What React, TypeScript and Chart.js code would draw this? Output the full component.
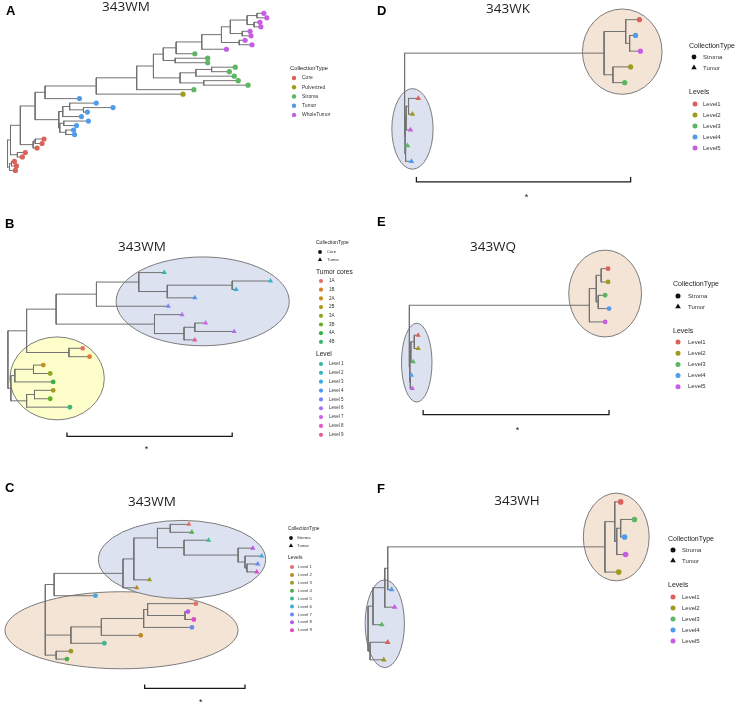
import React, { useEffect, useRef } from 'react';
import { Chart, registerables } from 'chart.js';

Chart.register(...registerables);

type Node3 = [string, string, number];

// ---------------- Panel A : 343WM (CollectionType) ----------------
const A_LEGEND = ['Core', 'Pulverized', 'Stroma', 'Tumor', 'WholeTumor'];
const A_TIP_GROUP = [
  'WholeTumor', 'WholeTumor', 'WholeTumor', 'WholeTumor', 'WholeTumor', 'WholeTumor', 'WholeTumor', 'WholeTumor', 'WholeTumor',
  'Stroma', 'Stroma', 'Stroma', 'Stroma', 'Stroma', 'Stroma', 'Stroma', 'Stroma', 'Stroma',
  'Pulverized',
  'Tumor', 'Tumor', 'Tumor', 'Tumor', 'Tumor', 'Tumor', 'Tumor', 'Tumor', 'Tumor',
  'Core', 'Core', 'Core', 'Core', 'Core', 'Core', 'Core', 'Core',
];
const A_TIP_DEPTH = [260, 263, 256, 257, 246, 247, 241, 248, 222, 190, 203, 203, 231, 225, 230, 234, 244, 189, 178, 73, 90, 107, 81, 75, 82, 70, 67, 68, 37, 35, 30, 18, 15, 7, 9, 8];
const A_TIP_PARENT = ['p12', 'p12', 'p34', 'p34', 'p56', 'p56', 'p78', 'p78', 'pR', 'n9', 'n10', 'n10', 'n13', 'n13', 'n12', 'n14', 'n14', 'n6', 'n5', 'n4', 'b3', 'b4', 'b4', 'b1', 'b5', 'b5', 'b6', 'b6', 'r1', 'r1', 'rA', 'r2', 'r2', 'r4', 'r4', 'r3'];
const A_NODES: Node3[] = [
  ['root', '', 0], ['n1', 'root', 3], ['r3', 'root', 2], ['r4', 'r3', 4], ['n2', 'n1', 13], ['r2', 'n1', 10],
  ['n3', 'n2', 28], ['rA', 'n2', 26], ['r1', 'rA', 28], ['n4', 'n3', 38], ['bR', 'n3', 52], ['b1', 'bR', 56],
  ['b3', 'b1', 63], ['b4', 'b3', 77], ['b2', 'bR', 53], ['b5', 'b2', 57], ['b6', 'b2', 59], ['n5', 'n4', 90],
  ['n6', 'n5', 131], ['n7', 'n6', 148], ['n8', 'n7', 158], ['n9', 'n8', 171], ['pR', 'n9', 197], ['p18', 'pR', 217],
  ['p16', 'p18', 226], ['p1234', 'p16', 243], ['p12', 'p1234', 253], ['p34', 'p1234', 250], ['p56', 'p16', 238],
  ['p78', 'p18', 235], ['n10', 'n8', 170], ['n11', 'n7', 175], ['n12', 'n11', 191], ['n13', 'n12', 207], ['n14', 'n11', 199],
];

// ---------------- Panel B : 343WM (Tumor cores / Level) ----------------
const B_COLLECTION = ['Core', 'Tumor'];
const B_CORES = ['1A', '1B', '2A', '2B', '3A', '3B', '4A', '4B'];
const B_LEVELS = ['Level 1', 'Level 2', 'Level 3', 'Level 4', 'Level 5', 'Level 6', 'Level 7', 'Level 8', 'Level 9'];
const B_TIP_GROUP = ['Level 1', 'Level 2', 'Level 3', 'Level 4', 'Level 5', 'Level 6', 'Level 7', 'Level 6', 'Level 9', '1A', '1B', '2A', '3A', '4A', '2B', '3B', '4B'];
const B_TIP_TYPE = ['Tumor', 'Tumor', 'Tumor', 'Tumor', 'Tumor', 'Tumor', 'Tumor', 'Tumor', 'Tumor', 'Core', 'Core', 'Core', 'Core', 'Core', 'Core', 'Core', 'Core'];
const B_TIP_DEPTH = [159, 267, 232, 190, 163, 177, 201, 230, 190, 76, 83, 36, 43, 46, 46, 43, 63];
const B_TIP_PARENT = ['n138', 'n233', 'n233', 'n167', 'n95', 'n154', 'n195', 'n195', 'n184', 'n67', 'n67', 'y4', 'y4', 'y2', 'y5', 'y5', 'y3'];
const B_NODES: Node3[] = [
  ['root', '', 0], ['n24', 'root', 19], ['n54', 'n24', 49], ['n95', 'n54', 90], ['n138', 'n95', 133], ['n167', 'n138', 162],
  ['n233', 'n167', 228], ['n154', 'n54', 149], ['n184', 'n154', 179], ['n195', 'n184', 190], ['n67', 'n24', 62],
  ['y1', 'root', 3], ['y2', 'y1', 7], ['y4', 'y2', 26], ['y3', 'y1', 19], ['y5', 'y3', 27],
];

// ---------------- Panel C : 343WM (Levels 1-9) ----------------
const C_COLLECTION = ['Stroma', 'Tumor'];
const C_LEVELS = ['Level 1', 'Level 2', 'Level 3', 'Level 4', 'Level 5', 'Level 6', 'Level 7', 'Level 8', 'Level 9'];
const C_TIP_GROUP = ['Level 1', 'Level 4', 'Level 5', 'Level 8', 'Level 6', 'Level 7', 'Level 9', 'Level 3', 'Level 2', 'Level 6', 'Level 1', 'Level 8', 'Level 9', 'Level 7', 'Level 2', 'Level 5', 'Level 3', 'Level 4'];
const C_TIP_TYPE = ['Tumor', 'Tumor', 'Tumor', 'Tumor', 'Tumor', 'Tumor', 'Tumor', 'Tumor', 'Tumor', 'Stroma', 'Stroma', 'Stroma', 'Stroma', 'Stroma', 'Stroma', 'Stroma', 'Stroma', 'Stroma'];
const C_TIP_DEPTH = [146, 149, 166, 211, 220, 216, 215, 106, 93, 51, 153, 145, 151, 149, 97, 60, 26, 22];
const C_TIP_PARENT = ['n170', 'n170', 'n184', 'n239', 'n246', 'n248', 'n248', 'n133', 'nBlue', 'n52', 'nC3', 'nC4', 'nC4', 'nC2', 'nC1', 'nBe', 'nBot', 'nBot'];
const C_NODES: Node3[] = [
  ['root', '', 0], ['n52', 'root', 9], ['nBlue', 'n52', 79], ['n133', 'nBlue', 90], ['n157', 'n133', 114], ['n170', 'n157', 127],
  ['n184', 'n157', 141], ['n239', 'n184', 196], ['n246', 'n239', 203], ['n248', 'n246', 205], ['nBe', 'root', 26],
  ['nC1', 'nBe', 57], ['nC2', 'nC1', 100], ['nC3', 'nC2', 104], ['nC4', 'nC3', 142], ['nBot', 'root', 11],
];

// ---------------- Panels D, E, F (Levels 1-5) ----------------
const DEF_COLLECTION = ['Stroma', 'Tumor'];
const DEF_LEVELS = ['Level1', 'Level2', 'Level3', 'Level4', 'Level5'];

const D_TIP_GROUP = ['Level1', 'Level4', 'Level5', 'Level2', 'Level3', 'Level1', 'Level2', 'Level5', 'Level3', 'Level4'];
const D_TIP_TYPE = ['Stroma', 'Stroma', 'Stroma', 'Stroma', 'Stroma', 'Tumor', 'Tumor', 'Tumor', 'Tumor', 'Tumor'];
const D_TIP_DEPTH = [239, 235, 240, 230, 224, 14, 8, 6, 3, 7];
const D_TIP_PARENT = ['n627', 'n631', 'n631', 'n614', 'n614', 'L4', 'L4', 'L2', 'L3', 'L3'];
const D_NODES: Node3[] = [
  ['root', '', 0], ['n605', 'root', 203], ['n627', 'n605', 225], ['n631', 'n627', 229], ['n614', 'n605', 212],
  ['L1', 'root', 0.5], ['L2', 'L1', 1.5], ['L4', 'L2', 4], ['L3', 'L1', 1],
];

const E_TIP_GROUP = ['Level1', 'Level2', 'Level3', 'Level4', 'Level5', 'Level1', 'Level2', 'Level3', 'Level4', 'Level5'];
const E_TIP_TYPE = ['Stroma', 'Stroma', 'Stroma', 'Stroma', 'Stroma', 'Tumor', 'Tumor', 'Tumor', 'Tumor', 'Tumor'];
const E_TIP_DEPTH = [202, 202, 199, 203, 199, 9, 9, 4, 2, 3];
const E_TIP_PARENT = ['n602', 'n602', 'n599', 'n599', 'n590', 'L3', 'L3', 'L2', 'L4', 'L4'];
const E_NODES: Node3[] = [
  ['root', '', 0], ['n590', 'root', 183], ['n597', 'n590', 190], ['n602', 'n597', 195], ['n599', 'n597', 192],
  ['L1', 'root', 0.5], ['L2', 'L1', 1.5], ['L3', 'L2', 5], ['L4', 'L1', 1],
];

const F_TIP_GROUP = ['Level1', 'Level3', 'Level4', 'Level5', 'Level2', 'Level4', 'Level5', 'Level3', 'Level1', 'Level2'];
const F_TIP_TYPE = ['Stroma', 'Stroma', 'Stroma', 'Stroma', 'Stroma', 'Tumor', 'Tumor', 'Tumor', 'Tumor', 'Tumor'];
const F_TIP_DEPTH = [257, 271, 261, 262, 255, 24, 27, 14, 20, 16];
const F_TIP_PARENT = ['n616', 'n622', 'n622', 'n618', 'n606', 'n385', 'n382', 'nTop', 'nBot', 'nBot'];
const F_NODES: Node3[] = [
  ['root', '', 0], ['nTop', 'root', 5], ['n382', 'nTop', 17], ['n385', 'n382', 20], ['n606', 'n385', 241],
  ['n616', 'n606', 251], ['n618', 'n616', 253], ['n622', 'n618', 257], ['nBot', 'root', 2],
];

// ---------------- colours ----------------
const COL_A: Record<string, string> = {
  Core: '#D9625B', Pulverized: '#9E9B1F', Stroma: '#5CB662', Tumor: '#519BEB', WholeTumor: '#C75DE2',
};
const COL_B: Record<string, string> = {
  '1A': '#E0706A', '1B': '#D98030', '2A': '#C89020', '2B': '#AA9A1A', '3A': '#8EA820', '3B': '#62AE28', '4A': '#3CB048', '4B': '#40B478',
  'Level 1': '#3CB4A0', 'Level 2': '#3AB4C8', 'Level 3': '#3AAAE0', 'Level 4': '#4A9AF4', 'Level 5': '#7A88F4',
  'Level 6': '#AA74F0', 'Level 7': '#CC64E8', 'Level 8': '#E05CC8', 'Level 9': '#E0609A',
};
const COL_C: Record<string, string> = {
  'Level 1': '#E0706A', 'Level 2': '#B88A22', 'Level 3': '#9A9A22', 'Level 4': '#4CAF3C', 'Level 5': '#40B890',
  'Level 6': '#40A8E0', 'Level 7': '#6A88F0', 'Level 8': '#B858E8', 'Level 9': '#E048C8',
};
const COL_DEF: Record<string, string> = {
  Level1: '#D9625B', Level2: '#9E9B1F', Level3: '#5CB662', Level4: '#519BEB', Level5: '#C75DE2',
};

const SANS = '"Liberation Sans", Arial, sans-serif';
const TITLE_FONT = '"Open Sans", "DejaVu Sans", sans-serif';
const BLUE = '#DDE2F0';
const BEIGE = '#F3E4D5';
const YELLOW = '#FEFECB';

type Section = {
  title: string; tx: number; ty: number; ts: number; labels: string[]; shapes?: boolean;
  y0: number; dy: number; dotX: number; textX: number; fs: number; r: number;
};
type Ell = { cx: number; cy: number; rx: number; ry: number; fill: string };
type Bar = { x0: number; x1: number; y: number; tickY: number; starX: number; starY: number } | null;
type PanelSpec = {
  rect: [number, number, number, number]; rootX: number; tip1Y: number; step: number;
  letter: [string, number, number]; title: [string, number, number];
  nodes: Node3[]; tipParent: string[]; tipDepth: number[]; tipGroup: string[]; tipType: string[];
  colors: Record<string, string>; tipR: number; triR: number;
  ellipses: Ell[]; bar: Bar; legend: Section[];
};

const PANELS: PanelSpec[] = [
  {
    rect: [0, 0, 368, 215], rootX: 5, tip1Y: 11, step: 4.6,
    letter: ['A', 6, 11.5], title: ['343WM', 126, 7],
    nodes: A_NODES, tipParent: A_TIP_PARENT, tipDepth: A_TIP_DEPTH, tipGroup: A_TIP_GROUP,
    tipType: A_TIP_GROUP.map(() => 'Stroma'), colors: COL_A, tipR: 2.6, triR: 3,
    ellipses: [], bar: null,
    legend: [{ title: 'CollectionType', tx: 290, ty: 68, ts: 5.8, labels: A_LEGEND, y0: 78, dy: 9.25, dotX: 294, textX: 302, fs: 5, r: 2.2 }],
  },
  {
    rect: [0, 215, 368, 240], rootX: 5, tip1Y: 271, step: 8.625,
    letter: ['B', 5, 224], title: ['343WM', 142, 247],
    nodes: B_NODES, tipParent: B_TIP_PARENT, tipDepth: B_TIP_DEPTH, tipGroup: B_TIP_GROUP, tipType: B_TIP_TYPE,
    colors: COL_B, tipR: 2.4, triR: 3,
    ellipses: [
      { cx: 198, cy: 4.42, rx: 88, ry: 5.28, fill: BLUE },
      { cx: 50, cy: 13.58, rx: 48, ry: 4.93, fill: YELLOW },
    ],
    bar: { x0: 60, x1: 228, y: 20.48, tickY: 20.0, starX: 141, starY: 21.75 },
    legend: [
      { title: 'CollectionType', tx: 316, ty: 243, ts: 5, labels: B_COLLECTION, shapes: true, y0: 252, dy: 8, dotX: 320, textX: 327, fs: 4.2, r: 1.9 },
      { title: 'Tumor cores', tx: 316, ty: 272, ts: 6.6, labels: B_CORES, y0: 281, dy: 8.7, dotX: 321, textX: 329, fs: 4.5, r: 2.1 },
      { title: 'Level', tx: 316, ty: 354, ts: 6.6, labels: B_LEVELS, y0: 364, dy: 8.85, dotX: 321, textX: 329, fs: 4.5, r: 2.1 },
    ],
  },
  {
    rect: [0, 455, 368, 251], rootX: 43, tip1Y: 523, step: 8.12,
    letter: ['C', 5, 488], title: ['343WM', 152, 502],
    nodes: C_NODES, tipParent: C_TIP_PARENT, tipDepth: C_TIP_DEPTH, tipGroup: C_TIP_GROUP, tipType: C_TIP_TYPE,
    colors: COL_C, tipR: 2.4, triR: 3,
    ellipses: [
      { cx: 77.5, cy: 14.36, rx: 118.5, ry: 4.86, fill: BEIGE },
      { cx: 139, cy: 5.43, rx: 85, ry: 4.93, fill: BLUE },
    ],
    bar: { x0: 101, x1: 203, y: 21.69, tickY: 21.2, starX: 158, starY: 23.17 },
    legend: [
      { title: 'CollectionType', tx: 288, ty: 529, ts: 4.8, labels: C_COLLECTION, shapes: true, y0: 538, dy: 8, dotX: 291, textX: 297, fs: 4.2, r: 1.9 },
      { title: 'Levels', tx: 288, ty: 558, ts: 5, labels: C_LEVELS, y0: 567, dy: 7.9, dotX: 292, textX: 298, fs: 4.3, r: 2 },
    ],
  },
  {
    rect: [368, 0, 368, 215], rootX: 402, tip1Y: 17, step: 16.22,
    letter: ['D', 377, 11.5], title: ['343WK', 508, 9],
    nodes: D_NODES, tipParent: D_TIP_PARENT, tipDepth: D_TIP_DEPTH, tipGroup: D_TIP_GROUP, tipType: D_TIP_TYPE,
    colors: COL_DEF, tipR: 2.6, triR: 3.2,
    ellipses: [
      { cx: 8, cy: 7.94, rx: 21, ry: 2.56, fill: BLUE },
      { cx: 221.5, cy: 3.03, rx: 40.5, ry: 2.71, fill: BEIGE },
    ],
    bar: { x0: 12, x1: 230, y: 11.3, tickY: 10.99, starX: 124, starY: 12.16 },
    legend: [
      { title: 'CollectionType', tx: 689, ty: 46, ts: 7, labels: DEF_COLLECTION, shapes: true, y0: 57, dy: 11, dotX: 694, textX: 703, fs: 6, r: 2.4 },
      { title: 'Levels', tx: 689, ty: 92, ts: 7, labels: DEF_LEVELS, y0: 104, dy: 11, dotX: 695, textX: 703, fs: 6, r: 2.5 },
    ],
  },
  {
    rect: [368, 215, 368, 230], rootX: 407, tip1Y: 267, step: 13.67,
    letter: ['E', 377, 222.5], title: ['343WQ', 493, 247],
    nodes: E_NODES, tipParent: E_TIP_PARENT, tipDepth: E_TIP_DEPTH, tipGroup: E_TIP_GROUP, tipType: E_TIP_TYPE,
    colors: COL_DEF, tipR: 2.4, triR: 3,
    ellipses: [
      { cx: 7.5, cy: 8.06, rx: 15.5, ry: 2.96, fill: BLUE },
      { cx: 199, cy: 2.87, rx: 37, ry: 3.26, fill: BEIGE },
    ],
    bar: { x0: 14, x1: 203, y: 11.97, tickY: 11.61, starX: 110, starY: 13.0 },
    legend: [
      { title: 'CollectionType', tx: 673, ty: 284, ts: 7, labels: DEF_COLLECTION, shapes: true, y0: 296, dy: 11, dotX: 678, textX: 688, fs: 6, r: 2.5 },
      { title: 'Levels', tx: 673, ty: 331, ts: 7, labels: DEF_LEVELS, y0: 342, dy: 11.2, dotX: 678, textX: 688, fs: 6, r: 2.5 },
    ],
  },
  {
    rect: [352, 445, 384, 261], rootX: 365, tip1Y: 500, step: 18,
    letter: ['F', 377, 489], title: ['343WH', 517, 501],
    nodes: F_NODES, tipParent: F_TIP_PARENT, tipDepth: F_TIP_DEPTH, tipGroup: F_TIP_GROUP, tipType: F_TIP_TYPE,
    colors: COL_DEF, tipR: 2.8, triR: 3.3,
    ellipses: [
      { cx: 17, cy: 7.94, rx: 20, ry: 2.5, fill: BLUE },
      { cx: 252.5, cy: 3.0, rx: 33.5, ry: 2.5, fill: BEIGE },
    ],
    bar: null,
    legend: [
      { title: 'CollectionType', tx: 668, ty: 539, ts: 7, labels: DEF_COLLECTION, shapes: true, y0: 550, dy: 11, dotX: 673, textX: 682, fs: 6, r: 2.5 },
      { title: 'Levels', tx: 668, ty: 585, ts: 7, labels: DEF_LEVELS, y0: 597, dy: 11, dotX: 673, textX: 682, fs: 6, r: 2.5 },
    ],
  },
];

function buildBranches(nodes: Node3[], tipParent: string[], tipDepth: number[]) {
  const depth: Record<string, number> = {};
  const kids: Record<string, Array<{ tip?: number; node?: string }>> = {};
  nodes.forEach(([name, par, d]) => {
    depth[name] = d;
    kids[name] = kids[name] || [];
    if (par) (kids[par] = kids[par] || []).push({ node: name });
  });
  tipParent.forEach((p, i) => (kids[p] = kids[p] || []).push({ tip: i }));
  const memo: Record<string, number> = {};
  const childYs = (name: string): number[] =>
    kids[name].map((k) => (k.tip !== undefined ? k.tip + 1 : yOf(k.node as string)));
  const yOf = (name: string): number => {
    if (memo[name] !== undefined) return memo[name];
    const ys = childYs(name);
    memo[name] = (Math.min(...ys) + Math.max(...ys)) / 2;
    return memo[name];
  };
  const segs: Array<{ x: number; y: number | null }> = [];
  const seg = (x1: number, y1: number, x2: number, y2: number) => {
    segs.push({ x: x1, y: y1 }, { x: x2, y: y2 }, { x: x2, y: null });
  };
  nodes.forEach(([name, par]) => {
    const ys = childYs(name);
    seg(depth[name], Math.min(...ys), depth[name], Math.max(...ys));
    if (par) seg(depth[par], yOf(name), depth[name], yOf(name));
  });
  tipDepth.forEach((d, i) => seg(depth[tipParent[i]], i + 1, d, i + 1));
  return segs;
}

function drawTri(ctx: CanvasRenderingContext2D, x: number, y: number, r: number) {
  ctx.beginPath();
  ctx.moveTo(x, y - r);
  ctx.lineTo(x + r * 0.866, y + r * 0.5);
  ctx.lineTo(x - r * 0.866, y + r * 0.5);
  ctx.closePath();
  ctx.fill();
}
function drawDot(ctx: CanvasRenderingContext2D, x: number, y: number, r: number) {
  ctx.beginPath();
  ctx.arc(x, y, r, 0, Math.PI * 2);
  ctx.fill();
}

function makeDecor(spec: PanelSpec) {
  const [L, T] = spec.rect;
  return {
    id: 'decor',
    beforeDatasetsDraw(chart: any) {
      const ctx: CanvasRenderingContext2D = chart.ctx;
      const xs = chart.scales.x;
      const ys = chart.scales.y;
      spec.ellipses.forEach((e) => {
        const cx = xs.getPixelForValue(e.cx);
        const cy = ys.getPixelForValue(e.cy);
        const rx = Math.abs(xs.getPixelForValue(e.cx + e.rx) - cx);
        const ry = Math.abs(ys.getPixelForValue(e.cy + e.ry) - cy);
        ctx.save();
        ctx.beginPath();
        ctx.ellipse(cx, cy, rx, ry, 0, 0, Math.PI * 2);
        ctx.fillStyle = e.fill;
        ctx.fill();
        ctx.strokeStyle = '#6E6E6E';
        ctx.lineWidth = 0.9;
        ctx.stroke();
        ctx.restore();
      });
    },
    afterDraw(chart: any) {
      const ctx: CanvasRenderingContext2D = chart.ctx;
      const xs = chart.scales.x;
      const ys = chart.scales.y;
      ctx.save();
      ctx.textBaseline = 'middle';
      // panel letter
      ctx.fillStyle = '#000';
      ctx.font = `bold 13px ${SANS}`;
      ctx.textAlign = 'left';
      ctx.fillText(spec.letter[0], spec.letter[1] - L, spec.letter[2] - T);
      // title
      ctx.fillStyle = '#1E1E1E';
      ctx.font = `13.5px ${TITLE_FONT}`;
      ctx.textAlign = 'center';
      ctx.fillText(spec.title[0], spec.title[1] - L, spec.title[2] - T);
      // significance star under the bar
      if (spec.bar) {
        ctx.fillStyle = '#222';
        ctx.font = `9px ${SANS}`;
        ctx.fillText('*', xs.getPixelForValue(spec.bar.starX), ys.getPixelForValue(spec.bar.starY) + 2);
      }
      // legends
      ctx.textAlign = 'left';
      spec.legend.forEach((s) => {
        ctx.fillStyle = '#222';
        ctx.font = `${s.ts}px ${SANS}`;
        ctx.fillText(s.title, s.tx - L, s.ty - T);
        s.labels.forEach((lab, i) => {
          const y = s.y0 + i * s.dy - T;
          const x = s.dotX - L;
          if (s.shapes) {
            ctx.fillStyle = '#111';
            if (i === 0) drawDot(ctx, x, y, s.r);
            else drawTri(ctx, x, y - 0.3, s.r * 1.3);
          } else {
            ctx.fillStyle = spec.colors[lab];
            drawDot(ctx, x, y, s.r);
          }
          ctx.fillStyle = '#333';
          ctx.font = `${s.fs}px ${SANS}`;
          ctx.fillText(lab, s.textX - L, y);
        });
      });
      ctx.restore();
    },
  };
}

function buildConfig(spec: PanelSpec): any {
  const [L, T, W, H] = spec.rect;
  const datasets: any[] = [];
  const groups: Record<string, { pts: any[]; color: string; tri: boolean }> = {};
  spec.tipDepth.forEach((d, i) => {
    const tri = spec.tipType[i] === 'Tumor' && spec.tipGroup !== A_TIP_GROUP;
    const key = spec.tipGroup[i] + '|' + (tri ? 't' : 'c');
    if (!groups[key]) groups[key] = { pts: [], color: spec.colors[spec.tipGroup[i]], tri };
    groups[key].pts.push({ x: d, y: i + 1 });
  });
  Object.keys(groups).forEach((k) => {
    const g = groups[k];
    datasets.push({
      label: k,
      data: g.pts,
      pointStyle: g.tri ? 'triangle' : 'circle',
      pointRadius: g.tri ? spec.triR : spec.tipR,
      pointHoverRadius: g.tri ? spec.triR : spec.tipR,
      backgroundColor: g.color,
      borderColor: g.color,
      borderWidth: 0,
    });
  });
  if (spec.bar) {
    const b = spec.bar;
    datasets.push({
      label: 'scale',
      data: [
        { x: b.x0, y: b.tickY }, { x: b.x0, y: b.y }, { x: b.x1, y: b.y }, { x: b.x1, y: b.tickY },
      ],
      showLine: true,
      borderColor: '#1A1A1A',
      borderWidth: 1.3,
      pointRadius: 0,
      pointHoverRadius: 0,
    });
  }
  datasets.push({
    label: 'branches',
    data: buildBranches(spec.nodes, spec.tipParent, spec.tipDepth),
    showLine: true,
    spanGaps: false,
    borderColor: '#727272',
    borderWidth: 1,
    borderCapStyle: 'square',
    pointRadius: 0,
    pointHoverRadius: 0,
  });
  return {
    type: 'scatter',
    data: { datasets },
    options: {
      animation: false,
      responsive: false,
      events: [],
      layout: { padding: 0 },
      plugins: { legend: { display: false }, tooltip: { enabled: false }, title: { display: false } },
      scales: {
        x: { type: 'linear', display: false, min: L - spec.rootX, max: L + W - spec.rootX },
        y: {
          type: 'linear', display: false, reverse: true,
          min: 1 + (T - spec.tip1Y) / spec.step,
          max: 1 + (T + H - spec.tip1Y) / spec.step,
        },
      },
    },
    plugins: [makeDecor(spec)],
  };
}

function Panel({ spec }: { spec: PanelSpec }) {
  const ref = useRef<HTMLCanvasElement>(null);
  useEffect(() => {
    if (!ref.current) return;
    const chart = new Chart(ref.current, buildConfig(spec));
    return () => chart.destroy();
  }, [spec]);
  const [L, T, W, H] = spec.rect;
  return (
    <canvas
      ref={ref}
      width={W}
      height={H}
      style={{ position: 'absolute', left: L, top: T, width: W, height: H }}
    />
  );
}

export default function App() {
  return (
    <div style={{ position: 'absolute', left: 0, top: 0, width: 736, height: 706, background: '#fff', overflow: 'hidden' }}>
      {PANELS.map((p, i) => (
        <Panel key={i} spec={p} />
      ))}
    </div>
  );
}
